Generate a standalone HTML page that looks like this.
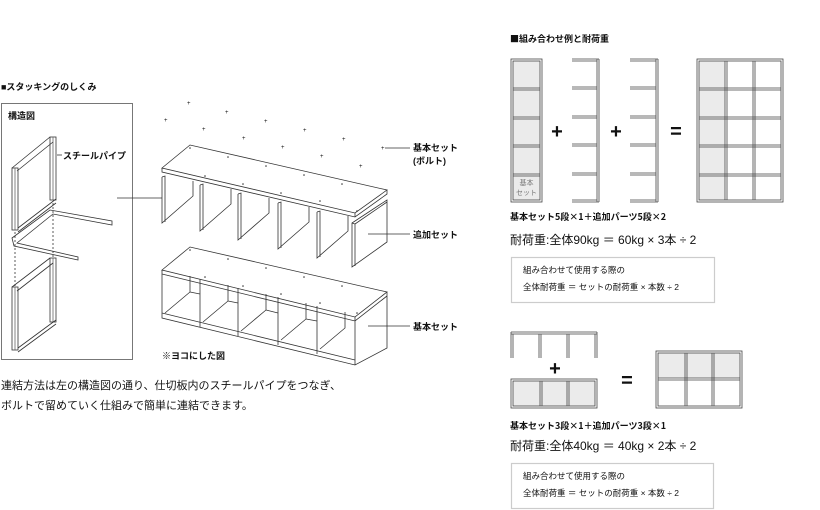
<!DOCTYPE html>
<html><head><meta charset="utf-8"><style>
html,body{margin:0;padding:0;background:#fff;width:820px;height:510px;overflow:hidden}
svg{display:block}
text{font-family:"Liberation Sans","Noto Sans CJK JP",sans-serif;fill:#111}
.b{font-weight:bold}
.h{font-family:"Noto Sans CJK JP",sans-serif;font-weight:bold}
</style></head><body>
<svg width="820" height="510" viewBox="0 0 820 510" xmlns="http://www.w3.org/2000/svg">
<g fill="none" stroke="#333" stroke-width="0.8">
<rect x="1.5" y="103.5" width="131" height="256" stroke="#555"/>
<rect x="12" y="168" width="6" height="62" fill="#fff"/>
<line x1="15" y1="168" x2="15" y2="230" stroke="#666"/>
<rect x="50" y="137" width="6" height="63" fill="#fff"/>
<line x1="53" y1="137" x2="53" y2="200" stroke="#666"/>
<path d="M12 168 L50 137 M17 171 L53 142"/>
<path d="M18 228 L56 199 M18 232 L56 203"/>
<path d="M12 238 L50 210 L112 221 L112 225 L53 214 L17 243 L78 257 L78 260 L14 246 Z"/>
<path d="M15 232 V287 M53 203 V258" stroke-dasharray="2,2"/>
<rect x="12" y="287" width="6" height="63" fill="#fff"/>
<line x1="15" y1="287" x2="15" y2="350" stroke="#666"/>
<rect x="50" y="258" width="6" height="64" fill="#fff"/>
<line x1="53" y1="258" x2="53" y2="322" stroke="#666"/>
<path d="M12 287 L50 258 M17 291 L53 263"/>
<path d="M18 348 L56 320 M18 352 L56 324"/>
<line x1="57" y1="155" x2="62" y2="155"/>
<line x1="117" y1="198" x2="170" y2="198"/>
<path d="M162 168 L190 145 L387 190 L355 213 Z" fill="#fff"/>
<path d="M162 168 L162 172 L355 217 L387 194 L387 190 M355 213 L355 217"/>
<g fill="#fff">
<path d="M162 177 L162 223 L193 196 L193 181"/>
<path d="M200 185 L200 231 L231 204 L231 189"/>
<path d="M238 194 L238 240 L269 213 L269 198"/>
<path d="M278 203 L278 249 L309 222 L309 207"/>
<path d="M317 212 L317 258 L348 231 L348 216"/>
</g>
<path d="M162 177 L165 176 L165 222 M200 185 L203 184 L203 230 M238 194 L241 193 L241 239 M278 203 L281 202 L281 248 M317 212 L320 211 L320 257"/>
<path d="M352 223 L387 200 L387 242 L352 267 Z M352 223 L355 224 L355 266 M355 224 L387 202" fill="#fff"/>
<line x1="368" y1="234" x2="410" y2="234"/>
<path d="M162 270 L190 247 L387 292 L355 317 Z" fill="#fff"/>
<path d="M162 270 L162 318 L355 365 L387 348 L387 292 M355 317 L355 365 M162 274 L355 321 L387 296"/>
<path d="M162 313 L355 360"/>
<path d="M200 279 V327 M238 288 V336 M278 297 V345 M317 306 V354"/>
<path d="M165 313 L190 292 V276 M203 322 L228 301 V285 M241 331 L266 310 V294 M281 340 L306 319 V303 M320 349 L345 328 V312"/>
<path d="M190 292 L200 294 M228 301 L238 303 M266 310 L278 313 M306 319 L317 321"/>
<line x1="368" y1="326" x2="410" y2="326"/>
<line x1="385" y1="148" x2="410" y2="148"/>
</g>
<g fill="#333" font-size="6">
<text x="187" y="105">+</text><text x="225" y="114">+</text><text x="164" y="122">+</text><text x="264" y="123">+</text>
<text x="202" y="131">+</text><text x="303" y="132">+</text><text x="242" y="140">+</text><text x="342" y="141">+</text>
<text x="281" y="149">+</text><text x="381" y="150">+</text><text x="320" y="158">+</text><text x="359" y="168">+</text>
</g>
<g fill="#333">
<circle cx="190" cy="148" r="0.8"/><circle cx="228" cy="157" r="0.8"/><circle cx="266" cy="166" r="0.8"/><circle cx="304" cy="175" r="0.8"/><circle cx="342" cy="184" r="0.8"/>
<circle cx="205" cy="176" r="0.8"/><circle cx="243" cy="184" r="0.8"/><circle cx="281" cy="193" r="0.8"/><circle cx="320" cy="201" r="0.8"/><circle cx="357" cy="211" r="0.8"/>
<circle cx="190" cy="250" r="0.8"/><circle cx="228" cy="259" r="0.8"/><circle cx="266" cy="268" r="0.8"/><circle cx="304" cy="277" r="0.8"/><circle cx="342" cy="286" r="0.8"/>
<circle cx="205" cy="277" r="0.8"/><circle cx="243" cy="286" r="0.8"/><circle cx="281" cy="294" r="0.8"/><circle cx="320" cy="303" r="0.8"/><circle cx="357" cy="313" r="0.8"/>
</g>
<g class="h" font-size="9">
<text x="1" y="90">■スタッキングのしくみ</text>
<text x="8" y="119">構造図</text>
<text x="63" y="159">スチールパイプ</text>
<text x="413" y="151">基本セット</text>
<text x="413" y="164">(ボルト)</text>
<text x="413" y="238">追加セット</text>
<text x="413" y="330">基本セット</text>
<text x="162" y="359">※ヨコにした図</text>
</g>
<text x="1" y="389" font-size="11">連結方法は左の構造図の通り、仕切板内のスチールパイプをつなぎ、</text>
<text x="1" y="409" font-size="11">ボルトで留めていく仕組みで簡単に連結できます。</text>

<text x="510" y="42" class="h" font-size="9">■組み合わせ例と耐荷重</text>
<g stroke="#444" stroke-width="0.8" fill="none">
<g fill="#ebebeb" stroke="none">
<rect x="513" y="61" width="27" height="139"/>
<rect x="699" y="61" width="26" height="139"/>
</g>
<rect x="511" y="59" width="31" height="143"/>
<rect x="513" y="61" width="27" height="139"/>
<path d="M513 88 H540 M513 90 H540 M513 117 H540 M513 119 H540 M513 145 H540 M513 147 H540 M513 174 H540 M513 176 H540"/>
<path d="M597 59 V202 M599 59 V202"/>
<path d="M572 59 H599 M572 61 H597 M572 87 H597 M572 89 H597 M572 116 H597 M572 118 H597 M572 144 H597 M572 146 H597 M572 173 H597 M572 175 H597 M572 200 H597 M572 202 H599"/>
<path d="M656 59 V202 M658 59 V202"/>
<path d="M630 59 H658 M630 61 H656 M630 87 H656 M630 89 H656 M630 116 H656 M630 118 H656 M630 144 H656 M630 146 H656 M630 173 H656 M630 175 H656 M630 200 H656 M630 202 H658"/>
<rect x="697" y="59" width="86" height="143"/>
<rect x="699" y="61" width="82" height="139"/>
<path d="M725 61 V200 M727 61 V200 M753 61 V200 M755 61 V200"/>
<path d="M699 88 H781 M699 90 H781 M699 117 H781 M699 119 H781 M699 145 H781 M699 147 H781 M699 174 H781 M699 176 H781"/>
</g>
<text x="526.5" y="185" font-size="7" text-anchor="middle" style="fill:#777">基本</text>
<text x="526.5" y="195" font-size="7" text-anchor="middle" style="fill:#777">セット</text>
<g class="b" font-size="20" text-anchor="middle">
<text x="557" y="138">+</text><text x="616" y="138">+</text><text x="676" y="138">=</text>
</g>
<text x="510" y="220" class="h" font-size="9">基本セット5段×1＋追加パーツ5段×2</text>
<text x="510" y="244" font-size="12">耐荷重:全体90kg ＝ 60kg × 3本 ÷ 2</text>
<rect x="511.5" y="257.5" width="203" height="45" fill="#fff" stroke="#ccc" stroke-width="1.2"/>
<text x="523" y="273" font-size="8.5">組み合わせて使用する際の</text>
<text x="523" y="290" font-size="8.5">全体耐荷重 ＝ セットの耐荷重 × 本数 ÷ 2</text>

<g stroke="#444" stroke-width="0.8" fill="none">
<path d="M511 332 H597 M511 334 H597"/>
<path d="M511 332 V358 M513 334 V358 M539 334 V358 M541 334 V358 M567 334 V358 M569 334 V358 M595 334 V358 M597 332 V358"/>
<rect x="513" y="381" width="82" height="25" fill="#ebebeb" stroke="none"/>
<rect x="511" y="379" width="86" height="29"/>
<rect x="513" y="381" width="82" height="25"/>
<path d="M540 381 V406 M542 381 V406 M567 381 V406 M569 381 V406"/>
<rect x="658" y="353" width="82" height="25" fill="#ebebeb" stroke="none"/>
<rect x="656" y="351" width="86" height="57"/>
<rect x="658" y="353" width="82" height="53"/>
<path d="M658 378 H740 M658 380 H740 M685 353 V406 M687 353 V406 M712 353 V406 M714 353 V406"/>
</g>
<g class="b" font-size="20" text-anchor="middle">
<text x="555" y="375">+</text><text x="627" y="387">=</text>
</g>
<text x="510" y="429" class="h" font-size="9">基本セット3段×1＋追加パーツ3段×1</text>
<text x="510" y="450" font-size="12">耐荷重:全体40kg ＝ 40kg × 2本 ÷ 2</text>
<rect x="511.5" y="463.5" width="202" height="45" fill="#fff" stroke="#ccc" stroke-width="1.2"/>
<text x="523" y="479" font-size="8.5">組み合わせて使用する際の</text>
<text x="523" y="496" font-size="8.5">全体耐荷重 ＝ セットの耐荷重 × 本数 ÷ 2</text>
</svg>
</body></html>
